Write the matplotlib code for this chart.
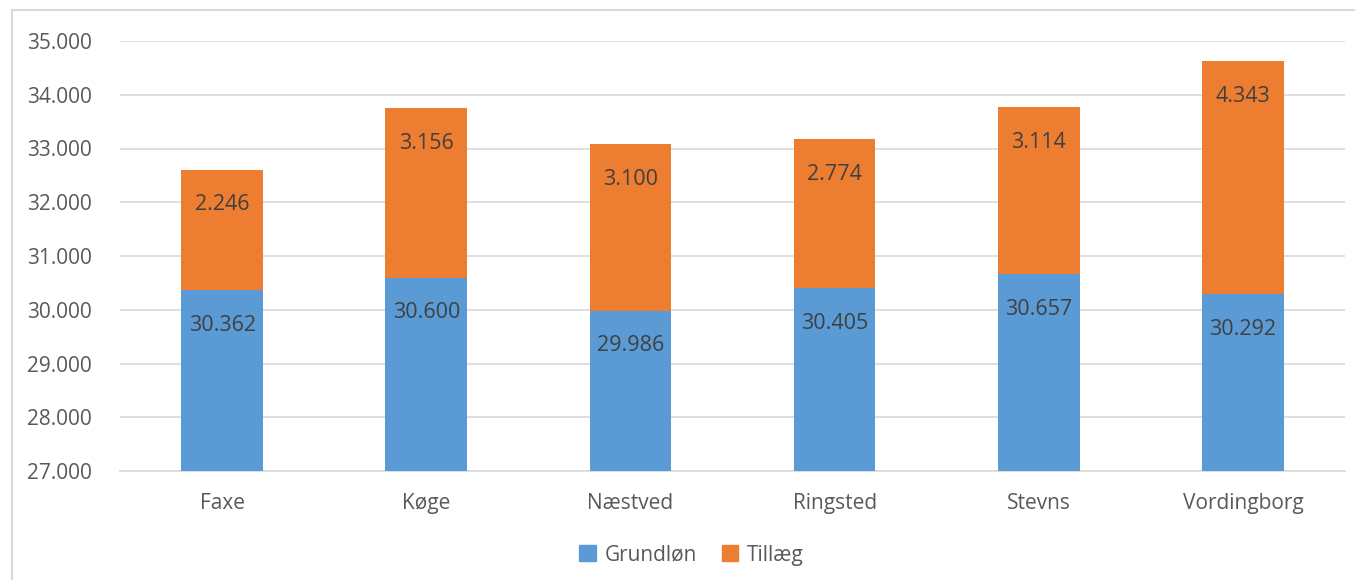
import matplotlib
matplotlib.use("Agg")
import matplotlib.pyplot as plt
from matplotlib.patches import Patch, Rectangle
import numpy as np

kommuner = ["Faxe", "Køge", "Næstved", "Ringsted", "Stevns", "Vordingborg"]
grundloen = [30362, 30600, 29986, 30405, 30657, 30292]
tillaeg = [2246, 3156, 3100, 2774, 3114, 4343]
y_ticks = [27000, 28000, 29000, 30000, 31000, 32000, 33000, 34000, 35000]

blue = "#5B9BD5"
orange = "#ED7D31"
grid_col = "#D9D9D9"
tick_col = "#595959"
label_col = "#404040"

plt.rcParams["font.family"] = ["Open Sans", "DejaVu Sans"]


def fmt(v):
    return f"{v:,}".replace(",", ".")


fig = plt.figure(figsize=(13.55, 5.8), dpi=100)
ax = fig.add_axes([120 / 1355, 109 / 580, 1225 / 1355, 430 / 580])

x = np.arange(len(kommuner))
width = 0.4
b1 = ax.bar(x, grundloen, width, color=blue, zorder=3, label="Grundløn")
b2 = ax.bar(x, tillaeg, width, bottom=grundloen, color=orange, zorder=3, label="Tillæg")

for i in range(len(kommuner)):
    ax.annotate(fmt(grundloen[i]), (x[i], grundloen[i]), xytext=(0, -25.5),
                textcoords="offset points", ha="center", va="center",
                fontsize=15.5, color=label_col, zorder=4)
    top = grundloen[i] + tillaeg[i]
    ax.annotate(fmt(tillaeg[i]), (x[i], top), xytext=(0, -25.5),
                textcoords="offset points", ha="center", va="center",
                fontsize=15.5, color=label_col, zorder=4)

ax.set_xlim(-0.5, len(kommuner) - 0.5)
ax.set_ylim(27000, 35000)
ax.set_yticks(y_ticks)
ax.set_yticklabels([fmt(t) for t in y_ticks])
ax.set_xticks(x)
ax.set_xticklabels(kommuner)
ax.tick_params(axis="y", length=0, pad=20, labelsize=15, labelcolor=tick_col)
ax.tick_params(axis="x", length=0, pad=16, labelsize=15, labelcolor=tick_col)
ax.grid(axis="y", color=grid_col, linewidth=1.2, zorder=0)
for s in ["top", "right", "left"]:
    ax.spines[s].set_visible(False)
ax.spines["bottom"].set_color(grid_col)
ax.spines["bottom"].set_linewidth(1.2)

handles = [Patch(color=blue, label="Grundløn"), Patch(color=orange, label="Tillæg")]
fig.legend(handles=handles, loc="center", bbox_to_anchor=(0.5 + 14 / 1355, 1 - 555 / 580), ncol=2,
           frameon=False, fontsize=15, labelcolor=tick_col, handlelength=0.8,
           handleheight=0.8, handletextpad=0.4, columnspacing=1.2)

# chart border (partly cut off at right and bottom, like the screenshot)
fig.patches.append(Rectangle((12 / 1355, -0.1), 2, 1 - 10 / 580 + 0.1,
                             transform=fig.transFigure, fill=False,
                             edgecolor=grid_col, linewidth=1.5))

fig.savefig("out.png", dpi=100)
